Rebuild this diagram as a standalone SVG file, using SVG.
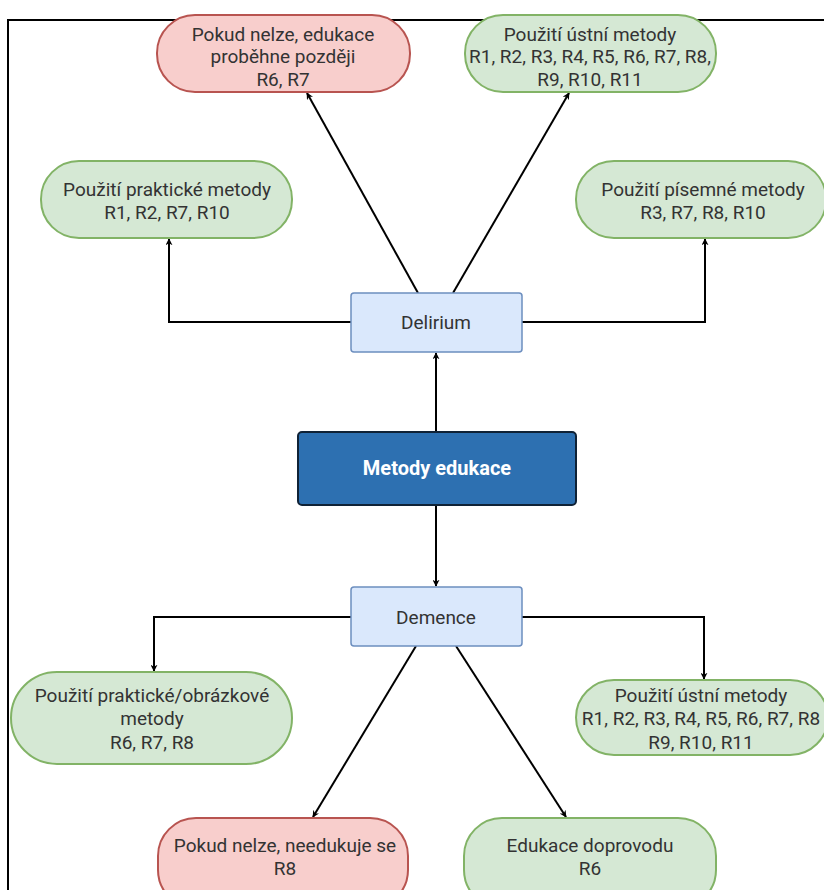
<svg xmlns="http://www.w3.org/2000/svg" width="824" height="890" viewBox="0 0 824 890">
<defs>
<style>
text{font-family:Roboto,"Liberation Sans",sans-serif;font-size:19px;fill:#333;text-anchor:middle}
.g{fill:#d5e8d4;stroke:#82b366;stroke-width:2}
.r{fill:#f8cecc;stroke:#b85450;stroke-width:2}
.b{fill:#dae8fc;stroke:#6c8ebf;stroke-width:1.5}
.c{fill:none;stroke:#000;stroke-width:2}
</style>
<marker id="a" viewBox="0 0 10 10" refX="9" refY="5" markerWidth="7" markerHeight="7" orient="auto" markerUnits="userSpaceOnUse"><path d="M0,0 L10,5 L0,10 L3,5 Z" fill="#000"/></marker>
</defs>
<rect width="824" height="890" fill="#fff"/>
<path d="M8,890 V20 H824" fill="none" stroke="#000" stroke-width="2"/>
<g id="connectors">
<path class="c" d="M436,432 V353" marker-end="url(#a)"/>
<path class="c" d="M436,505 V586" marker-end="url(#a)"/>
<path class="c" d="M351,322 H169 V239" marker-end="url(#a)"/>
<path class="c" d="M522,322 H705 V239" marker-end="url(#a)"/>
<path class="c" d="M418,293 L307,93" marker-end="url(#a)"/>
<path class="c" d="M453,293 L569,93" marker-end="url(#a)"/>
<path class="c" d="M351,617 H154 V671" marker-end="url(#a)"/>
<path class="c" d="M522,617 H704 V679" marker-end="url(#a)"/>
<path class="c" d="M416,646 L313,817" marker-end="url(#a)"/>
<path class="c" d="M456,646 L566,817" marker-end="url(#a)"/>
</g>
<g id="n-later">
<rect class="r" x="157" y="15" width="253" height="77" rx="38"/>
<text x="283" y="41">Pokud nelze, edukace</text>
<text x="283" y="63">proběhne později</text>
<text x="283" y="86">R6, R7</text>
</g>
<g id="n-ustni-top">
<rect class="g" x="465" y="15" width="251" height="77" rx="38"/>
<text x="590" y="41">Použití ústní metody</text>
<text x="590" y="63">R1, R2, R3, R4, R5, R6, R7, R8,</text>
<text x="590" y="86">R9, R10, R11</text>
</g>
<g id="n-prakticke">
<rect class="g" x="41" y="161" width="251" height="77" rx="38"/>
<text x="167" y="196">Použití praktické metody</text>
<text x="167" y="219">R1, R2, R7, R10</text>
</g>
<g id="n-pisemne">
<rect class="g" x="576" y="161" width="250" height="77" rx="38"/>
<text x="703" y="196">Použití písemné metody</text>
<text x="703" y="219">R3, R7, R8, R10</text>
</g>
<g id="n-delirium">
<rect class="b" x="351" y="293" width="171" height="59" rx="3"/>
<text x="436" y="329">Delirium</text>
</g>
<g id="n-metody">
<rect x="298" y="432" width="278" height="73" rx="4" fill="#2d70b1" stroke="#0f2236" stroke-width="2"/>
<text x="437" y="475" style="fill:#fff;font-weight:bold;font-size:20px">Metody edukace</text>
</g>
<g id="n-demence">
<rect class="b" x="351" y="587" width="171" height="59" rx="3"/>
<text x="436" y="624">Demence</text>
</g>
<g id="n-obrazkove">
<rect class="g" x="11" y="672" width="281" height="92" rx="46"/>
<text x="152" y="702">Použití praktické/obrázkové</text>
<text x="152" y="725">metody</text>
<text x="152" y="749">R6, R7, R8</text>
</g>
<g id="n-ustni-bottom">
<rect class="g" x="576" y="680" width="252" height="75" rx="38"/>
<text x="701" y="702">Použití ústní metody</text>
<text x="701" y="725">R1, R2, R3, R4, R5, R6, R7, R8</text>
<text x="701" y="749">R9, R10, R11</text>
</g>
<g id="n-needukuje">
<rect class="r" x="158" y="818" width="250" height="90" rx="38"/>
<text x="285" y="852">Pokud nelze, needukuje se</text>
<text x="285" y="875">R8</text>
</g>
<g id="n-doprovod">
<rect class="g" x="464" y="818" width="252" height="90" rx="38"/>
<text x="590" y="852">Edukace doprovodu</text>
<text x="590" y="875">R6</text>
</g>
</svg>
